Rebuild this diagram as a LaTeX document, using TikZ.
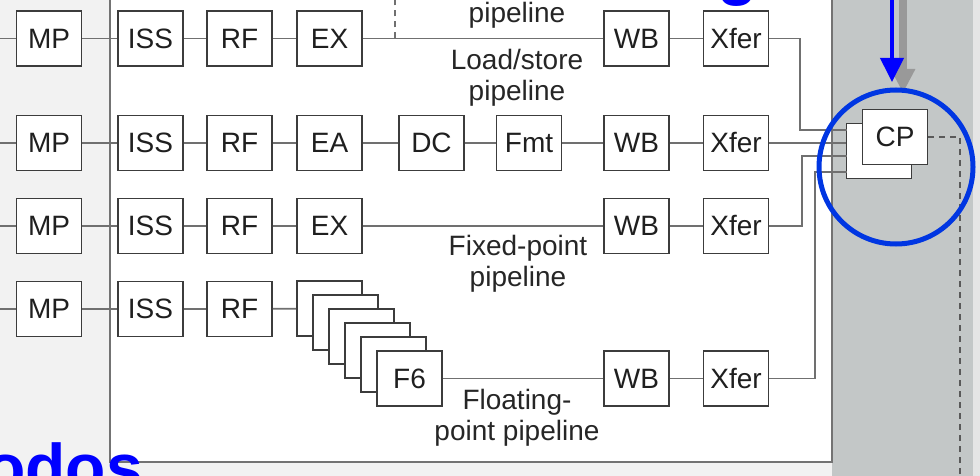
\documentclass[tikz,border=0pt]{standalone}
\usepackage{fontspec}
\setmainfont{Liberation Sans}
\usepackage{tikz}
\usetikzlibrary{arrows.meta, calc, positioning}

\definecolor{linegray}{HTML}{707070}
\definecolor{boxgray}{HTML}{3C3C3C}
\definecolor{panelgray}{HTML}{C3C7C7}
\definecolor{ringblue}{HTML}{0036E2}

\begin{document}
\begin{tikzpicture}[x=0.5pt, y=-0.5pt, font=\fontsize{14}{15.5}\selectfont,
  arro/.style = {-{Triangle[length=12pt, width=11.5pt]}}]

\tikzstyle{stage} = [draw=boxgray, line width=0.9pt, fill=white, minimum width=32.5pt, minimum height=27.5pt, inner sep=0pt, text=black!88]
\tikzstyle{wire} = [draw=linegray, line width=0.9pt]
\tikzstyle{caption} = [align=center, text=black!85]
\tikzstyle{headline} = [anchor=base west, text=blue, font=\fontsize{33}{33}\selectfont\bfseries]

\useasboundingbox (0,0) rectangle (980,476);
\clip (0,0) rectangle (980,476);

% background
\fill[black!5] (0,0) rectangle (980,476);
\fill[panelgray] (832,0) rectangle (973,476);
\fill[black!10] (973,0) rectangle (980,476);
\fill[white] (110,-10) rectangle (832,462);
\draw[black!55, line width=1pt] (110,-10) -- (110,462) -- (832,462) -- (832,-10);

% cut-off headings
\node[headline] at (-22,490) (title) {odos};
\node[headline] at (710,-7) (gpart) {g};

% first row
\node[stage] at (49,38.5) (mp1) {MP};
\node[stage] at (150.5,38.5) (iss1) {ISS};
\node[stage] at (239.5,38.5) (rf1) {RF};
\node[stage] at (329.5,38.5) (ex1) {EX};
\node[stage] at (636.5,38.5) (wb1) {WB};
\node[stage] at (736,38.5) (xf1) {Xfer};
% connections
\coordinate (in1) at (0,38.5);
\coordinate (split) at (395,38.5);
\draw[wire] (in1) -- (mp1);
\draw[wire] (mp1) -- (iss1);
\draw[wire] (iss1) -- (rf1);
\draw[wire] (rf1) -- (ex1);
\draw[wire] (ex1) -- (wb1);
\draw[wire] (wb1) -- (xf1);
\draw[wire, dashed, dash pattern=on 3pt off 2.5pt] (split) -- ++(0,-45);

% load/store row
\node[stage] at (49,143) (mp2) {MP};
\node[stage] at (150.5,143) (iss2) {ISS};
\node[stage] at (239.5,143) (rf2) {RF};
\node[stage] at (329.5,143) (ea2) {EA};
\node[stage] at (431.5,143) (dc2) {DC};
\node[stage] at (529,143) (fmt2) {Fmt};
\node[stage] at (636.5,143) (wb2) {WB};
\node[stage] at (736,143) (xf2) {Xfer};
% connections
\coordinate (in2) at (0,143);
\draw[wire] (in2) -- (mp2);
\draw[wire] (mp2) -- (iss2);
\draw[wire] (iss2) -- (rf2);
\draw[wire] (rf2) -- (ea2);
\draw[wire] (ea2) -- (dc2);
\draw[wire] (dc2) -- (fmt2);
\draw[wire] (fmt2) -- (wb2);
\draw[wire] (wb2) -- (xf2);

% fixed-point row
\node[stage] at (49,226) (mp3) {MP};
\node[stage] at (150.5,226) (iss3) {ISS};
\node[stage] at (239.5,226) (rf3) {RF};
\node[stage] at (329.5,226) (ex3) {EX};
\node[stage] at (636.5,226) (wb3) {WB};
\node[stage] at (736,226) (xf3) {Xfer};
% connections
\coordinate (in3) at (0,226);
\draw[wire] (in3) -- (mp3);
\draw[wire] (mp3) -- (iss3);
\draw[wire] (iss3) -- (rf3);
\draw[wire] (rf3) -- (ex3);
\draw[wire] (ex3) -- (wb3);
\draw[wire] (wb3) -- (xf3);

% floating-point row
\node[stage] at (49,309) (mp4) {MP};
\node[stage] at (150.5,309) (iss4) {ISS};
\node[stage] at (239.5,309) (rf4) {RF};
\node[stage] at (329.5,308.5) (f1) {};
\node[stage] at (345.5,322.5) (f2) {};
\node[stage] at (361.5,336.5) (f3) {};
\node[stage] at (377.5,350.5) (f4) {};
\node[stage] at (393.5,364.5) (f5) {};
\node[stage] at (409.5,378.5) (f6) {F6};
\node[stage] at (636.5,378.5) (wb4) {WB};
\node[stage] at (736,378.5) (xf4) {Xfer};
% connections
\coordinate (in4) at (0,309);
\draw[wire] (in4) -- (mp4);
\draw[wire] (mp4) -- (iss4);
\draw[wire] (iss4) -- (rf4);
\draw[wire] (rf4) -- (f1);
\draw[wire] (f6) -- (wb4);
\draw[wire] (wb4) -- (xf4);

% pipeline names
\node[caption] at (517,15) (nm1) {pipeline};
\node[caption] at (517,78) (nm2) {Load/store\\pipeline};
\node[caption] at (518,264) (nm3) {Fixed-point\\pipeline};
\node[caption] at (517,418) (nm4) {Floating-\\point pipeline};

% completion
\node[stage] at (879,151) (cpb) {};
\node[stage] at (895,137) (cp) {CP};
\coordinate (cp1) at (847,130);
\coordinate (cp3) at (847,156);
\coordinate (cp4) at (847,172);
% connections
\draw[wire] (xf1) -- ++(64,0) |- (cp1);
\draw[wire] (xf2) -- (cpb.west |- xf2);
\draw[wire] (xf3) -- ++(66,0) |- (cp3);
\draw[wire] (xf4) -- ++(79,0) |- (cp4);
\draw[wire, draw=black!65, dashed, dash pattern=on 3pt off 2.5pt] (cp) -- ++(65,0) -- ++(0,400);

% highlight
\coordinate (gtop) at (903,-10);
\coordinate (gtip) at (903,93);
\coordinate (btop) at (892,-10);
\coordinate (btip) at (892,82);
\coordinate (ring) at (896,167);
\draw[arro, draw=black!40, fill=black!40, line width=4pt] (gtop) -- (gtip);
\draw[arro, draw=blue, fill=blue, line width=2pt] (btop) -- (btip);
\draw[ringblue, line width=2.5pt] (ring) circle[radius=38.5pt];
\end{tikzpicture}
\end{document}
